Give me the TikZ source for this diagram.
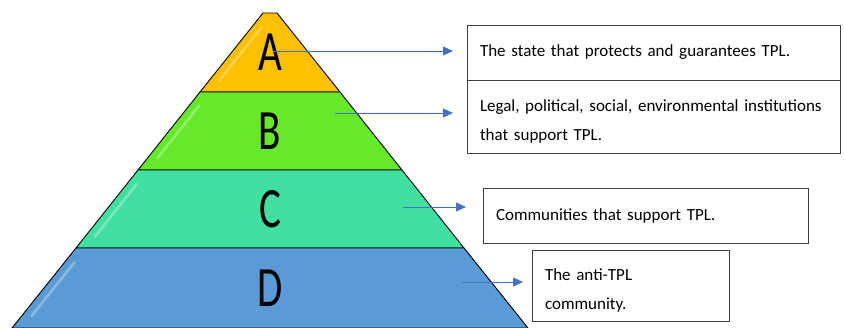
\documentclass[tikz,border=0pt]{standalone}
\usepackage{fontspec}
\setmainfont{Carlito}
\usetikzlibrary{arrows.meta,calc}
\definecolor{layerA}{HTML}{FFC000}
\definecolor{layerB}{HTML}{66E92A}
\definecolor{layerC}{HTML}{42E0A0}
\definecolor{layerD}{HTML}{5B9BD5}
\definecolor{linkblue}{HTML}{4472C4}
\definecolor{boxline}{HTML}{404040}
% taller first line for the two-line descriptions
\newcommand{\firstline}{\rule{0pt}{21pt}}
\begin{document}
\begin{tikzpicture}[x=1pt,y=-1pt,
  letter/.style={inner sep=0pt,font=\fontsize{57}{57}\selectfont},
  infobox/.style={draw=boxline,line width=0.8pt,rectangle,anchor=north west,
    outer sep=0pt,inner xsep=13pt,inner ysep=0pt,align=left,
    font=\fontsize{17}{29}\selectfont},
  link/.style={draw=linkblue,line width=0.8pt,-{Triangle[length=10pt,width=9pt]}},
  gloss/.style={white,opacity=0.3,line width=2.5pt,line cap=round}]
\useasboundingbox (0,0) rectangle (844,327);

% pyramid layers: name / colour / top y / top half-width / bottom y / bottom half-width
\foreach \n/\c/\ya/\ha/\yb/\hb in {A/layerA/13/7/92/70, B/layerB/92/70/170/132,
    C/layerC/170/132/248/194, D/layerD/248/194/328/258} {
  \coordinate (\n tl) at (270-\ha,\ya);
  \coordinate (\n tr) at (270+\ha,\ya);
  \coordinate (\n br) at (270+\hb,\yb);
  \coordinate (\n bl) at (270-\hb,\yb);
  \fill[\c] (\n tl) -- (\n tr) -- (\n br) -- (\n bl) -- cycle;
  \draw[gloss] ($(\n tl)!0.18!(\n bl)+(10,0)$) -- ($(\n tl)!0.85!(\n bl)+(10,0)$);
  \draw[black,line width=0.9pt,line join=round] (\n tl) -- (\n tr) -- (\n br) -- (\n bl) -- cycle;
  \node[letter] (\n) at (270,{(\ya+\yb)/2}) {\scalebox{0.72}[1]{\n}};
}

% description boxes
\node[infobox,minimum width=373pt,minimum height=55pt,text width=347pt] (boxA) at (467,25)
  {The state that protects and guarantees TPL.};
\node[infobox,minimum width=373pt,minimum height=73pt,text width=347pt] (boxB) at (467,80)
  {\firstline Legal, political, social, environmental institutions\\that support TPL.};
\node[infobox,minimum width=325pt,minimum height=55pt,text width=299pt] (boxC) at (483,188)
  {Communities that support TPL.};
\node[infobox,minimum width=197pt,minimum height=71pt,text width=171pt] (boxD) at (532,250)
  {\firstline The anti-TPL\\community.};

% arrows from each layer to its description
\coordinate (sA) at (273,51);
\coordinate (sB) at (335,113);
\coordinate (sC) at (403,207);
\coordinate (sD) at (462,282);
\draw[link,shorten >=14pt] (sA) -- (sA -| boxA.west);
\draw[link,shorten >=14pt] (sB) -- (sB -| boxB.west);
\draw[link,shorten >=17pt] (sC) -- (sC -| boxC.west);
\draw[link,shorten >=9pt] (sD) -- (sD -| boxD.west);
\end{tikzpicture}
\end{document}
